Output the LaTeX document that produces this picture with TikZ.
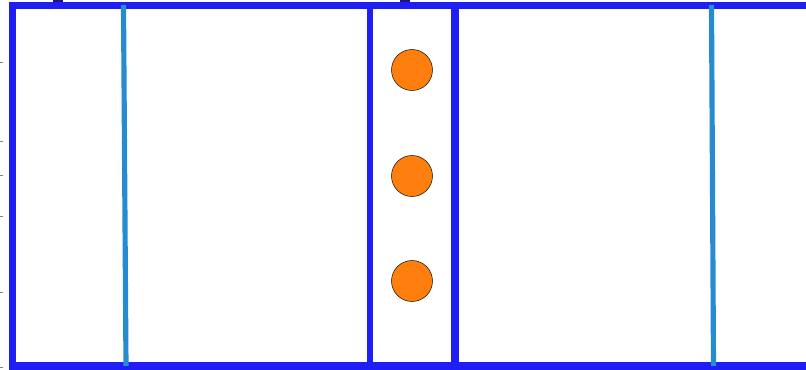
\documentclass[tikz,border=0pt]{standalone}
\usepackage{xcolor}
\usepackage{tikz}
\definecolor{wallblue}{RGB}{30,30,245}
\definecolor{lineblue}{RGB}{38,140,210}
\definecolor{dotorange}{RGB}{255,127,14}
\definecolor{navy}{RGB}{25,25,120}

\begin{document}
\begin{tikzpicture}[x=0.03cm, y=-0.03cm, font=\scriptsize, wall/.style={draw=wallblue, line width=6.8pt}, lane/.style={draw=lineblue, line width=4.4pt}, dot/.style={circle, draw=black, line width=0.4pt, fill=dotorange, minimum size=1.23cm, inner sep=0pt}, tick/.style={draw=gray, line width=0.8pt}]
\useasboundingbox (0,0) rectangle (806,370);
\clip (0,0) rectangle (806,370);
% outer frame, open to the right
\draw[wall] (830,5.5) -- (12.5,5.5) -- (12.5,366) -- (830,366);
\draw[lane] (123.5,5) -- (126,366);
\draw[lane] (711.5,5) -- (713.5,366);
\draw[wall, line width=5.2pt] (370,5) -- (370,366);
\draw[wall] (455,5) -- (455,366);
\node[dot] (dot1) at (412,70) {};
\node[dot] (dot2) at (412,176) {};
\node[dot] (dot3) at (412,281) {};
% axis ticks
\foreach \y in {62,141,175,216,292,367}
  \draw[tick] (0,\y) -- (3,\y);
\fill[navy] (53,0) rectangle (63,2.5);
\fill[navy] (400,0) rectangle (410,2.5);
\end{tikzpicture}
\end{document}
